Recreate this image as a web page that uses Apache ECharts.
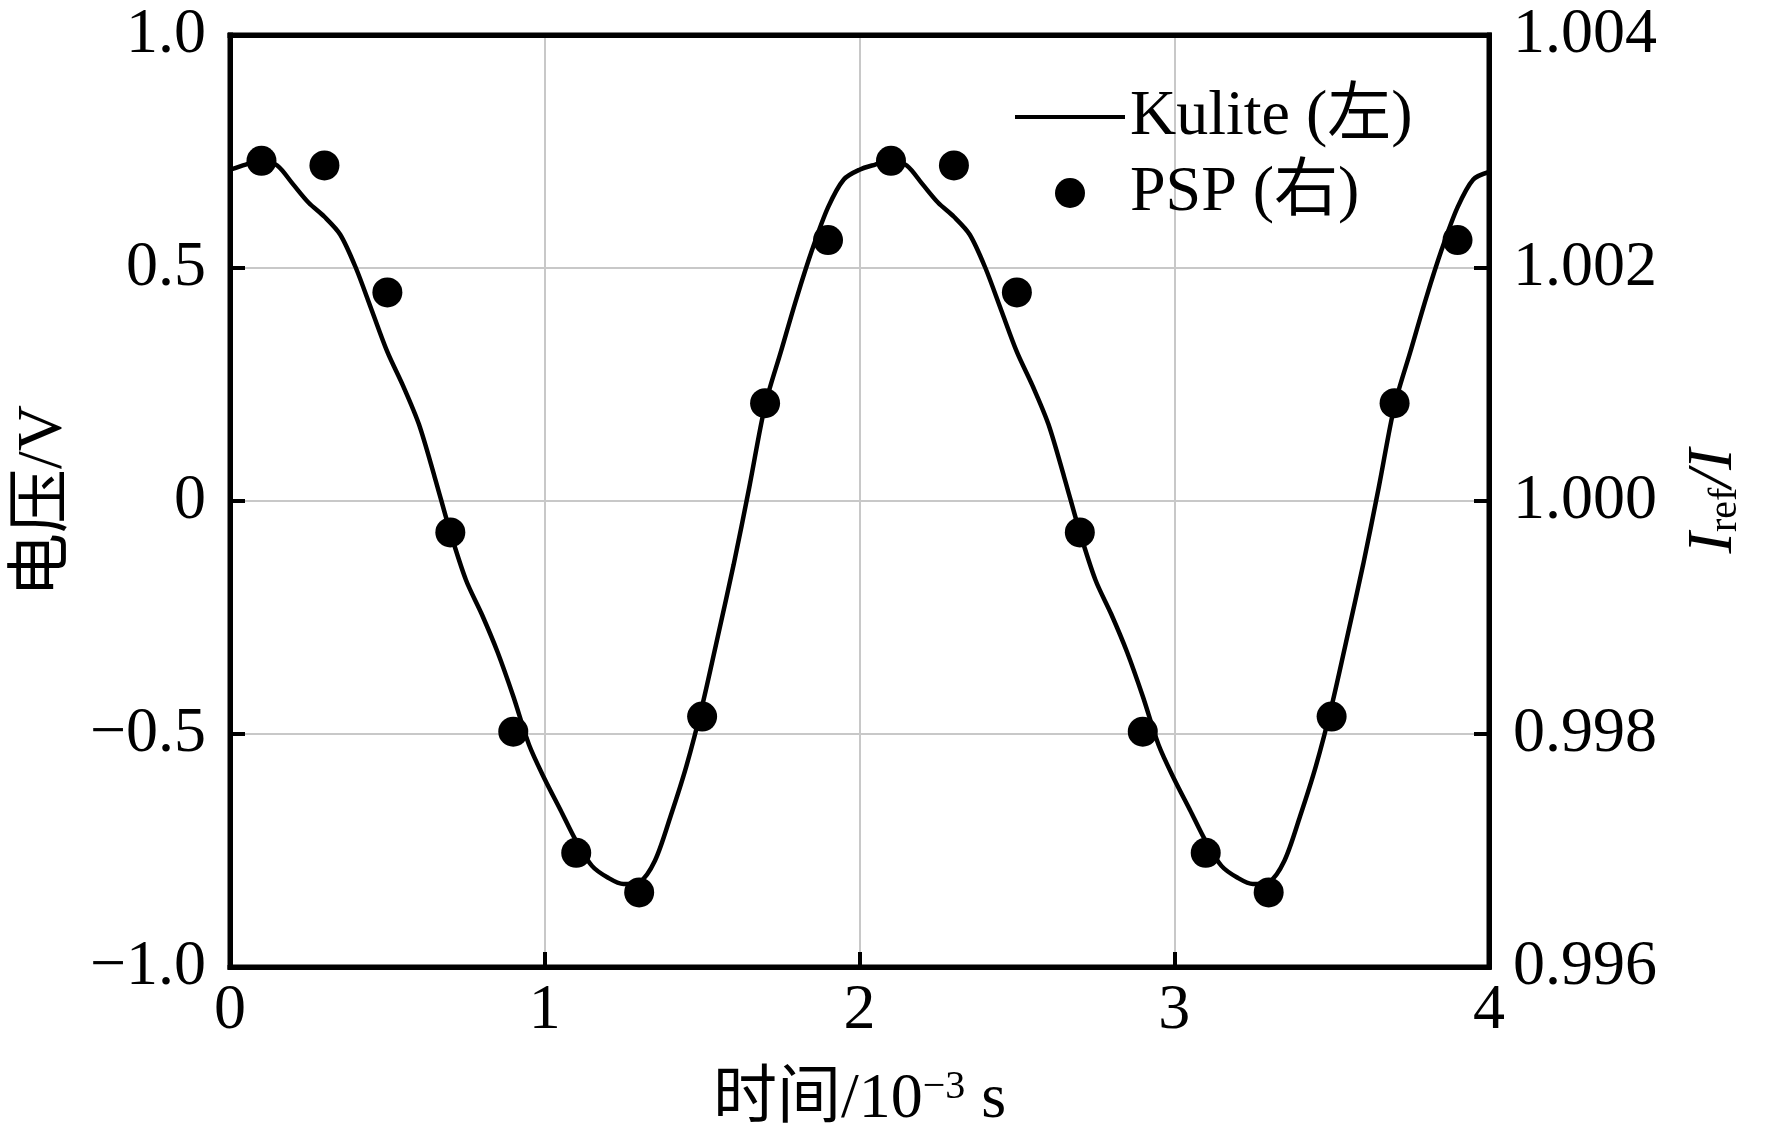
<!DOCTYPE html>
<html>
<head>
<meta charset="utf-8">
<script src="https://cdn.jsdelivr.net/npm/echarts@6/dist/echarts.min.js"></script>
<style>
  html, body { margin: 0; padding: 0; background: #fff; }
  #chart { width: 1772px; height: 1138px; }
</style>
</head>
<body>
<div id="chart"></div>
<script>
// Kulite voltage (left axis), sampled every 0.05 ms
const kuliteTime = [
  0, 0.05, 0.1, 0.15, 0.2, 0.25, 0.3, 0.35, 0.4, 0.45, 0.5, 0.55, 0.6, 0.65, 0.7, 0.75, 0.8, 0.85, 0.9, 0.95,
  1, 1.05, 1.1, 1.15, 1.2, 1.25, 1.3, 1.35, 1.4, 1.45, 1.5, 1.55, 1.6, 1.65, 1.7, 1.75, 1.8, 1.85, 1.9, 1.95,
  2, 2.05, 2.1, 2.15, 2.2, 2.25, 2.3, 2.35, 2.4, 2.45, 2.5, 2.55, 2.6, 2.65, 2.7, 2.75, 2.8, 2.85, 2.9, 2.95,
  3, 3.05, 3.1, 3.15, 3.2, 3.25, 3.3, 3.35, 3.4, 3.45, 3.5, 3.55, 3.6, 3.65, 3.7, 3.75, 3.8, 3.85, 3.9, 3.95, 4
];
const kuliteVolt = [
  0.711, 0.722, 0.731, 0.72, 0.68, 0.64, 0.61, 0.572, 0.5, 0.41, 0.32, 0.247, 0.165, 0.052, -0.067, -0.17, -0.243, -0.324, -0.419, -0.523,
  -0.597, -0.663, -0.73, -0.783, -0.808, -0.822, -0.818, -0.772, -0.676, -0.569, -0.44, -0.29, -0.137, 0.03, 0.205, 0.32, 0.435, 0.54, 0.63, 0.69,
  0.711, 0.722, 0.731, 0.72, 0.68, 0.64, 0.61, 0.572, 0.5, 0.41, 0.32, 0.247, 0.165, 0.052, -0.067, -0.17, -0.243, -0.324, -0.419, -0.523,
  -0.597, -0.663, -0.73, -0.783, -0.808, -0.822, -0.818, -0.772, -0.676, -0.569, -0.44, -0.29, -0.137, 0.03, 0.205, 0.32, 0.435, 0.54, 0.63, 0.69, 0.706
];

// PSP intensity ratio (right axis)
const pspTime = [0.1, 0.3, 0.5, 0.7, 0.9, 1.1, 1.3, 1.5, 1.7, 1.9, 2.1, 2.3, 2.5, 2.7, 2.9, 3.1, 3.3, 3.5, 3.7, 3.9];
const pspRatio = [
  1.00292, 1.00288, 1.00179, 0.99973, 0.99802, 0.99698, 0.99664, 0.99815, 1.00084, 1.00224,
  1.00292, 1.00288, 1.00179, 0.99973, 0.99802, 0.99698, 0.99664, 0.99815, 1.00084, 1.00224
];

const seriesNames = ['Kulite (左)', 'PSP (右)'];

const FONT = "'Liberation Serif', 'Times New Roman', 'Noto Sans CJK SC', serif";
const FS = 64;

const chart = echarts.init(document.getElementById('chart'));

const frameLine = { show: true, onZero: false, lineStyle: { color: '#000', width: 5, cap: 'square' } };
const tickStyle = { show: true, inside: true, length: 15, lineStyle: { color: '#000', width: 4 } };
const labelStyle = { color: '#000', fontFamily: FONT, fontSize: FS };

chart.setOption({
  animation: false,
  backgroundColor: '#fff',
  grid: {
    left: 230, right: 283, top: 35, bottom: 168,
    show: true, borderColor: '#000', borderWidth: 5
  },
  legend: {
    orient: 'vertical',
    left: 1010, top: 80,
    itemWidth: 110, itemHeight: 30, itemGap: 12,
    textStyle: { color: '#000', fontFamily: FONT, fontSize: FS, lineHeight: 64 },
    data: [
      { name: seriesNames[0], icon: 'path://M0,0H110V4H0Z' },
      { name: seriesNames[1], icon: 'circle' }
    ]
  },
  xAxis: [
    {
      type: 'value', min: 0, max: 4, interval: 1,
      axisLine: frameLine,
      axisTick: tickStyle,
      axisLabel: Object.assign({ margin: 12 }, labelStyle),
      splitLine: { show: true, lineStyle: { color: '#c8c8c8', width: 2 } },
      name: '{a|时间/10}{sup|−3}{a| s}',
      nameLocation: 'middle', nameGap: 98,
      nameTextStyle: {
        rich: {
          a: { fontFamily: FONT, fontSize: FS, color: '#000', lineHeight: 70 },
          sup: { fontFamily: FONT, fontSize: 40, color: '#000', lineHeight: 70, padding: [0, 0, 26, 0] }
        }
      }
    },
    {
      type: 'value', min: 0, max: 4, interval: 1, position: 'top',
      axisLine: frameLine,
      axisTick: { show: false },
      axisLabel: { show: false },
      splitLine: { show: false }
    }
  ],
  yAxis: [
    {
      type: 'value', min: -1, max: 1, interval: 0.5,
      axisLine: frameLine,
      axisTick: tickStyle,
      axisLabel: Object.assign({
        margin: 24,
        formatter: v => v === 0 ? '0' : (v < 0 ? '−' : '') + Math.abs(v).toFixed(1)
      }, labelStyle),
      splitLine: { show: true, lineStyle: { color: '#c8c8c8', width: 2 } },
      name: '电压/V', nameLocation: 'middle', nameGap: 154, nameRotate: 90,
      nameTextStyle: { fontFamily: FONT, fontSize: FS, color: '#000' }
    },
    {
      type: 'value', min: 0.996, max: 1.004, interval: 0.002,
      position: 'right',
      axisLine: frameLine,
      axisTick: tickStyle,
      axisLabel: Object.assign({ margin: 24, formatter: v => v.toFixed(3) }, labelStyle),
      splitLine: { show: false },
      name: '{i|I}{s|ref}{i|/I}', nameLocation: 'middle', nameGap: 190, nameRotate: 90,
      nameTextStyle: {
        rich: {
          i: { fontFamily: FONT, fontSize: FS, fontStyle: 'italic', color: '#000', lineHeight: 70 },
          s: { fontFamily: FONT, fontSize: 40, color: '#000', lineHeight: 70, padding: [22, 0, 0, 0] }
        }
      }
    }
  ],
  series: [
    {
      name: seriesNames[0],
      type: 'line',
      yAxisIndex: 0,
      data: kuliteTime.map((t, i) => [t, kuliteVolt[i]]),
      smooth: 0.3,
      symbol: 'none',
      lineStyle: { color: '#000', width: 4.5 },
      itemStyle: { color: '#000' },
      z: 2
    },
    {
      name: seriesNames[1],
      type: 'scatter',
      yAxisIndex: 1,
      data: pspTime.map((t, i) => [t, pspRatio[i]]),
      symbol: 'circle',
      symbolSize: 30,
      itemStyle: { color: '#000', opacity: 1 },
      z: 3
    }
  ]
});
</script>
</body>
</html>
